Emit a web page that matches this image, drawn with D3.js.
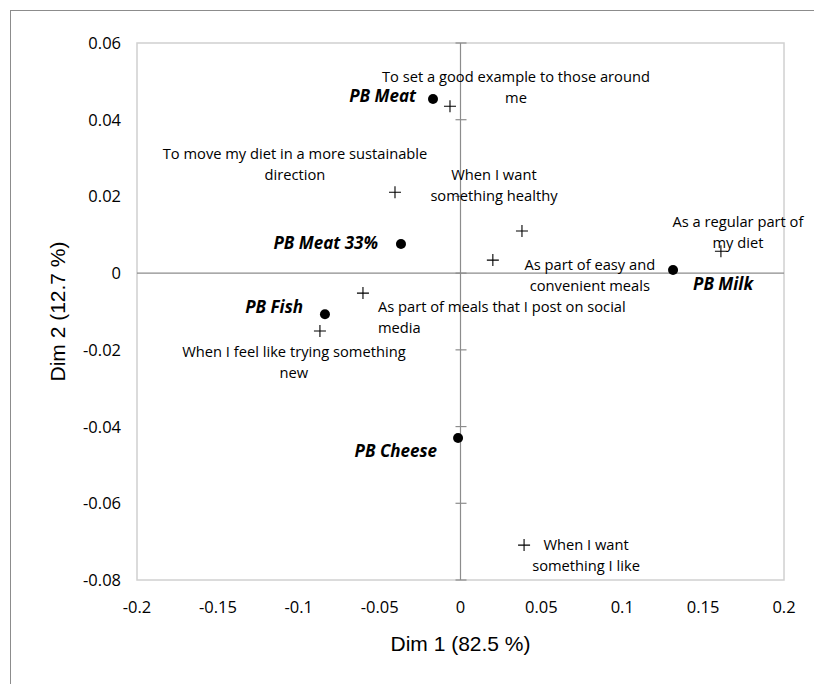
<!DOCTYPE html>
<html>
<head>
<meta charset="utf-8">
<script src="https://cdn.jsdelivr.net/npm/d3@7"></script>
<style>
  body { margin: 0; background: #fff; }
  text { font-family: "Open Sans", sans-serif; fill: #000; }
</style>
</head>
<body>
<svg id="chart" width="814" height="684"></svg>
<script>
// products (row points)
const products = ["PB Meat", "PB Meat 33%", "PB Fish", "PB Cheese", "PB Milk"]
const productX = [-0.017, -0.0368, -0.0838, -0.0015, 0.1314]
const productY = [0.0454, 0.0076, -0.0107, -0.043, 0.0008]

// occasions (column points)
const occasions = [
  "To set a good example to those around|me",
  "To move my diet in a more sustainable|direction",
  "When I want|something healthy",
  "As part of easy and|convenient meals",
  "As a regular part of|my diet",
  "As part of meals that I post on social|media",
  "When I feel like trying something|new",
  "When I want|something I like"
]
const occasionX = [-0.0065, -0.0405, 0.038, 0.020, 0.161, -0.0603, -0.0869, 0.0393]
const occasionY = [0.0435, 0.0211, 0.011, 0.0034, 0.0057, -0.0052, -0.0151, -0.0709]

const xTicks = [-0.2, -0.15, -0.1, -0.05, 0, 0.05, 0.1, 0.15, 0.2]
const yTicks = [0.06, 0.04, 0.02, 0, -0.02, -0.04, -0.06, -0.08]

// label placement (offset from point, text anchor)
const productLabelPos = [
  [-17, 3, "end"], [-23, 5, "end"], [-22, -1, "end"], [-21, 19, "end"], [50, 20, "middle"]
]
const occasionLabelPos = [
  [66, -24, "middle"], [-100, -33, "middle"], [-28, -51, "middle"], [97, 10, "middle"],
  [17, -24, "middle"], [15, 19, "start"], [-26, 26, "middle"], [62, 5, "middle"]
]

const svg = d3.select("#chart")

// outer frame
svg.append("rect")
  .attr("x", 10.5).attr("y", 10.5)
  .attr("width", 830).attr("height", 700)
  .attr("fill", "none").attr("stroke", "#8c8c8c")

const x = d3.scaleLinear().domain([-0.2, 0.2]).range([137, 784])
const y = d3.scaleLinear().domain([-0.08, 0.06]).range([580, 43])

// plot area
svg.append("rect")
  .attr("x", x(-0.2)).attr("y", y(0.06))
  .attr("width", x(0.2) - x(-0.2)).attr("height", y(-0.08) - y(0.06))
  .attr("fill", "none").attr("stroke", "#d0d0d0").attr("stroke-width", 1.5)

// axes through origin
svg.append("line")
  .attr("x1", x(-0.2)).attr("x2", x(0.2))
  .attr("y1", y(0)).attr("y2", y(0))
  .attr("stroke", "#8c8c8c").attr("stroke-width", 1.2)
svg.append("line")
  .attr("x1", x(0)).attr("x2", x(0))
  .attr("y1", y(0.06)).attr("y2", y(-0.08))
  .attr("stroke", "#8c8c8c").attr("stroke-width", 1.2)

svg.selectAll(".ytick").data(yTicks)
  .enter().append("line")
    .attr("class", "ytick")
    .attr("x1", x(0) - 5).attr("x2", x(0) + 6)
    .attr("y1", d => y(d)).attr("y2", d => y(d))
    .attr("stroke", "#8c8c8c").attr("stroke-width", 1.2)

// tick labels
svg.selectAll(".ylab").data(yTicks)
  .enter().append("text")
    .attr("class", "ylab")
    .attr("x", 121).attr("y", d => y(d) + 6)
    .attr("text-anchor", "end")
    .style("font-size", "16.5px")
    .text(d => d === 0 ? "0" : d3.format(".2f")(d).replace("−", "-"))

svg.selectAll(".xlab").data(xTicks)
  .enter().append("text")
    .attr("class", "xlab")
    .attr("x", d => x(d)).attr("y", 613)
    .attr("text-anchor", "middle")
    .style("font-size", "16.5px")
    .text(d => String(d))

// axis titles
svg.append("text")
  .attr("x", x(0)).attr("y", 651)
  .attr("text-anchor", "middle")
  .style("font-family", "'Liberation Sans', Arial, sans-serif")
  .style("font-size", "21px")
  .text("Dim 1 (82.5 %)")
svg.append("text")
  .attr("transform", "translate(65," + y(-0.01) + ") rotate(-90)")
  .attr("text-anchor", "middle")
  .style("font-family", "'Liberation Sans', Arial, sans-serif")
  .style("font-size", "21px")
  .text("Dim 2 (12.7 %)")

// occasion markers (+) and labels
occasions.forEach((o, i) => {
  const cx = x(occasionX[i]), cy = y(occasionY[i])
  svg.append("path")
    .attr("d", `M${cx - 6},${cy}H${cx + 6}M${cx},${cy - 6}V${cy + 6}`)
    .attr("stroke", "#000").attr("stroke-width", 1.1)
  const p = occasionLabelPos[i]
  const t = svg.append("text")
    .attr("x", cx + p[0]).attr("y", cy + p[1])
    .attr("text-anchor", p[2])
    .style("font-size", "14.7px")
  o.split("|").forEach((line, j) => {
    t.append("tspan").attr("x", cx + p[0]).attr("dy", j === 0 ? 0 : 21).text(line)
  })
})

// product markers
svg.selectAll(".prod").data(products)
  .enter().append("circle")
    .attr("class", "prod")
    .attr("cx", (d, i) => x(productX[i]))
    .attr("cy", (d, i) => y(productY[i]))
    .attr("r", 5)
    .attr("fill", "#000")

svg.selectAll(".prodlab").data(products)
  .enter().append("text")
    .attr("class", "prodlab")
    .attr("x", (d, i) => x(productX[i]) + productLabelPos[i][0])
    .attr("y", (d, i) => y(productY[i]) + productLabelPos[i][1])
    .attr("text-anchor", (d, i) => productLabelPos[i][2])
    .style("font-size", "17px")
    .style("font-weight", "bold")
    .style("font-style", "italic")
    .text(d => d)
</script>
</body>
</html>
